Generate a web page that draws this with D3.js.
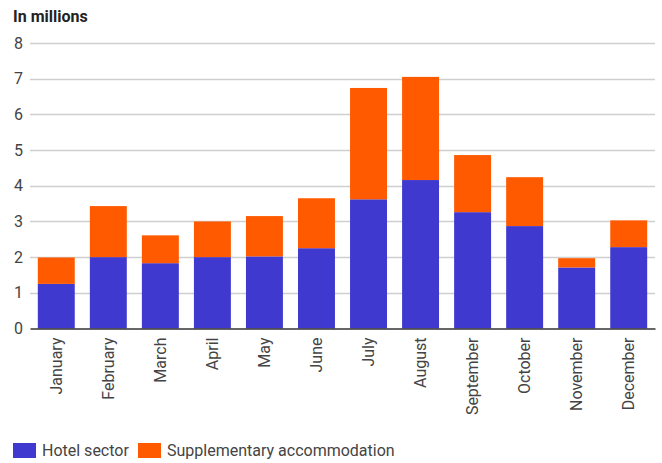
<!DOCTYPE html>
<html>
<head>
<meta charset="utf-8">
<script src="https://cdn.jsdelivr.net/npm/d3@7"></script>
<style>
  html, body { margin: 0; padding: 0; background: #fff; }
  svg { display: block; font-family: Roboto, "Noto Sans", sans-serif; }
</style>
</head>
<body>
<svg id="chart" width="662" height="463"></svg>
<script>
// Monthly overnight stays, in millions
const months = ["January", "February", "March", "April", "May", "June",
  "July", "August", "September", "October", "November", "December"];
const hotelSector = [1.25, 2.0, 1.83, 2.0, 2.02, 2.25, 3.62, 4.16, 3.26, 2.87, 1.71, 2.28];
const supplementary = [0.74, 1.43, 0.78, 1.0, 1.13, 1.40, 3.12, 2.89, 1.60, 1.37, 0.26, 0.75];
const yTicks = [0, 1, 2, 3, 4, 5, 6, 7, 8];
const seriesNames = ["Hotel sector", "Supplementary accommodation"];
const seriesColors = ["#3f39d0", "#ff5a00"];

const svg = d3.select("#chart");
const margin = { left: 30, right: 7, top: 43, bottom: 134 };
const width = 662, height = 463;

const x = d3.scaleBand()
  .domain(months)
  .range([margin.left, width - margin.right])
  .paddingInner(0.29)
  .paddingOuter(0.15);

const y = d3.scaleLinear()
  .domain([0, 8])
  .range([height - margin.bottom - 0.5, margin.top]);

// Horizontal grid
svg.append("g")
  .selectAll("line")
  .data(yTicks.filter(d => d > 0))
  .join("line")
  .attr("x1", margin.left)
  .attr("x2", width - margin.right)
  .attr("y1", d => Math.round(y(d)) + 0.5)
  .attr("y2", d => Math.round(y(d)) + 0.5)
  .attr("stroke", "#cfcfcf")
  .attr("stroke-width", 1.5);

// Y axis labels
const yAxis = d3.axisLeft(y).tickValues(yTicks).tickSize(0).tickPadding(0);
const gy = svg.append("g")
  .attr("transform", `translate(${margin.left - 7},0)`)
  .call(yAxis);
gy.select(".domain").remove();
gy.selectAll("text")
  .attr("font-size", 16)
  .attr("fill", "#444")
  .attr("font-family", "Roboto, sans-serif");

// Stacked bars
const rows = months.map((m, i) => ({ month: m, hotel: hotelSector[i], supp: supplementary[i] }));
const stack = d3.stack().keys(["hotel", "supp"]);
const layers = stack(rows);

svg.append("g")
  .selectAll("g")
  .data(layers)
  .join("g")
  .attr("fill", (d, i) => seriesColors[i])
  .selectAll("rect")
  .data(d => d)
  .join("rect")
  .attr("x", d => x(d.data.month))
  .attr("width", x.bandwidth())
  .attr("y", d => y(d[1]))
  .attr("height", d => y(d[0]) - y(d[1]));

// X axis baseline and month labels
const xAxis = d3.axisBottom(x).tickSize(0).tickPadding(0);
const gx = svg.append("g")
  .attr("transform", `translate(0,${y(0)})`)
  .call(xAxis);
gx.select(".domain")
  .attr("stroke", "#333")
  .attr("stroke-width", 1.5);
gx.selectAll("text")
  .attr("font-size", 16)
  .attr("fill", "#444")
  .attr("font-family", "Roboto, sans-serif")
  .attr("text-anchor", "end")
  .attr("dy", "0.35em")
  .attr("transform", "translate(0,9) rotate(-90)")
  .attr("y", 0)
  .attr("x", 0);

// Title
svg.append("text")
  .attr("x", 13)
  .attr("y", 22)
  .attr("font-size", 16)
  .attr("font-weight", "bold")
  .attr("fill", "#222")
  .text("In millions");

// Legend
const legendX = [13, 138];
const legend = svg.append("g");
seriesNames.forEach((name, i) => {
  legend.append("rect")
    .attr("x", legendX[i])
    .attr("y", 443)
    .attr("width", 23)
    .attr("height", 15)
    .attr("fill", seriesColors[i]);
  legend.append("text")
    .attr("x", legendX[i] + 29)
    .attr("y", 456)
    .attr("font-size", 16)
    .attr("fill", "#444")
    .text(name);
});
</script>
</body>
</html>
